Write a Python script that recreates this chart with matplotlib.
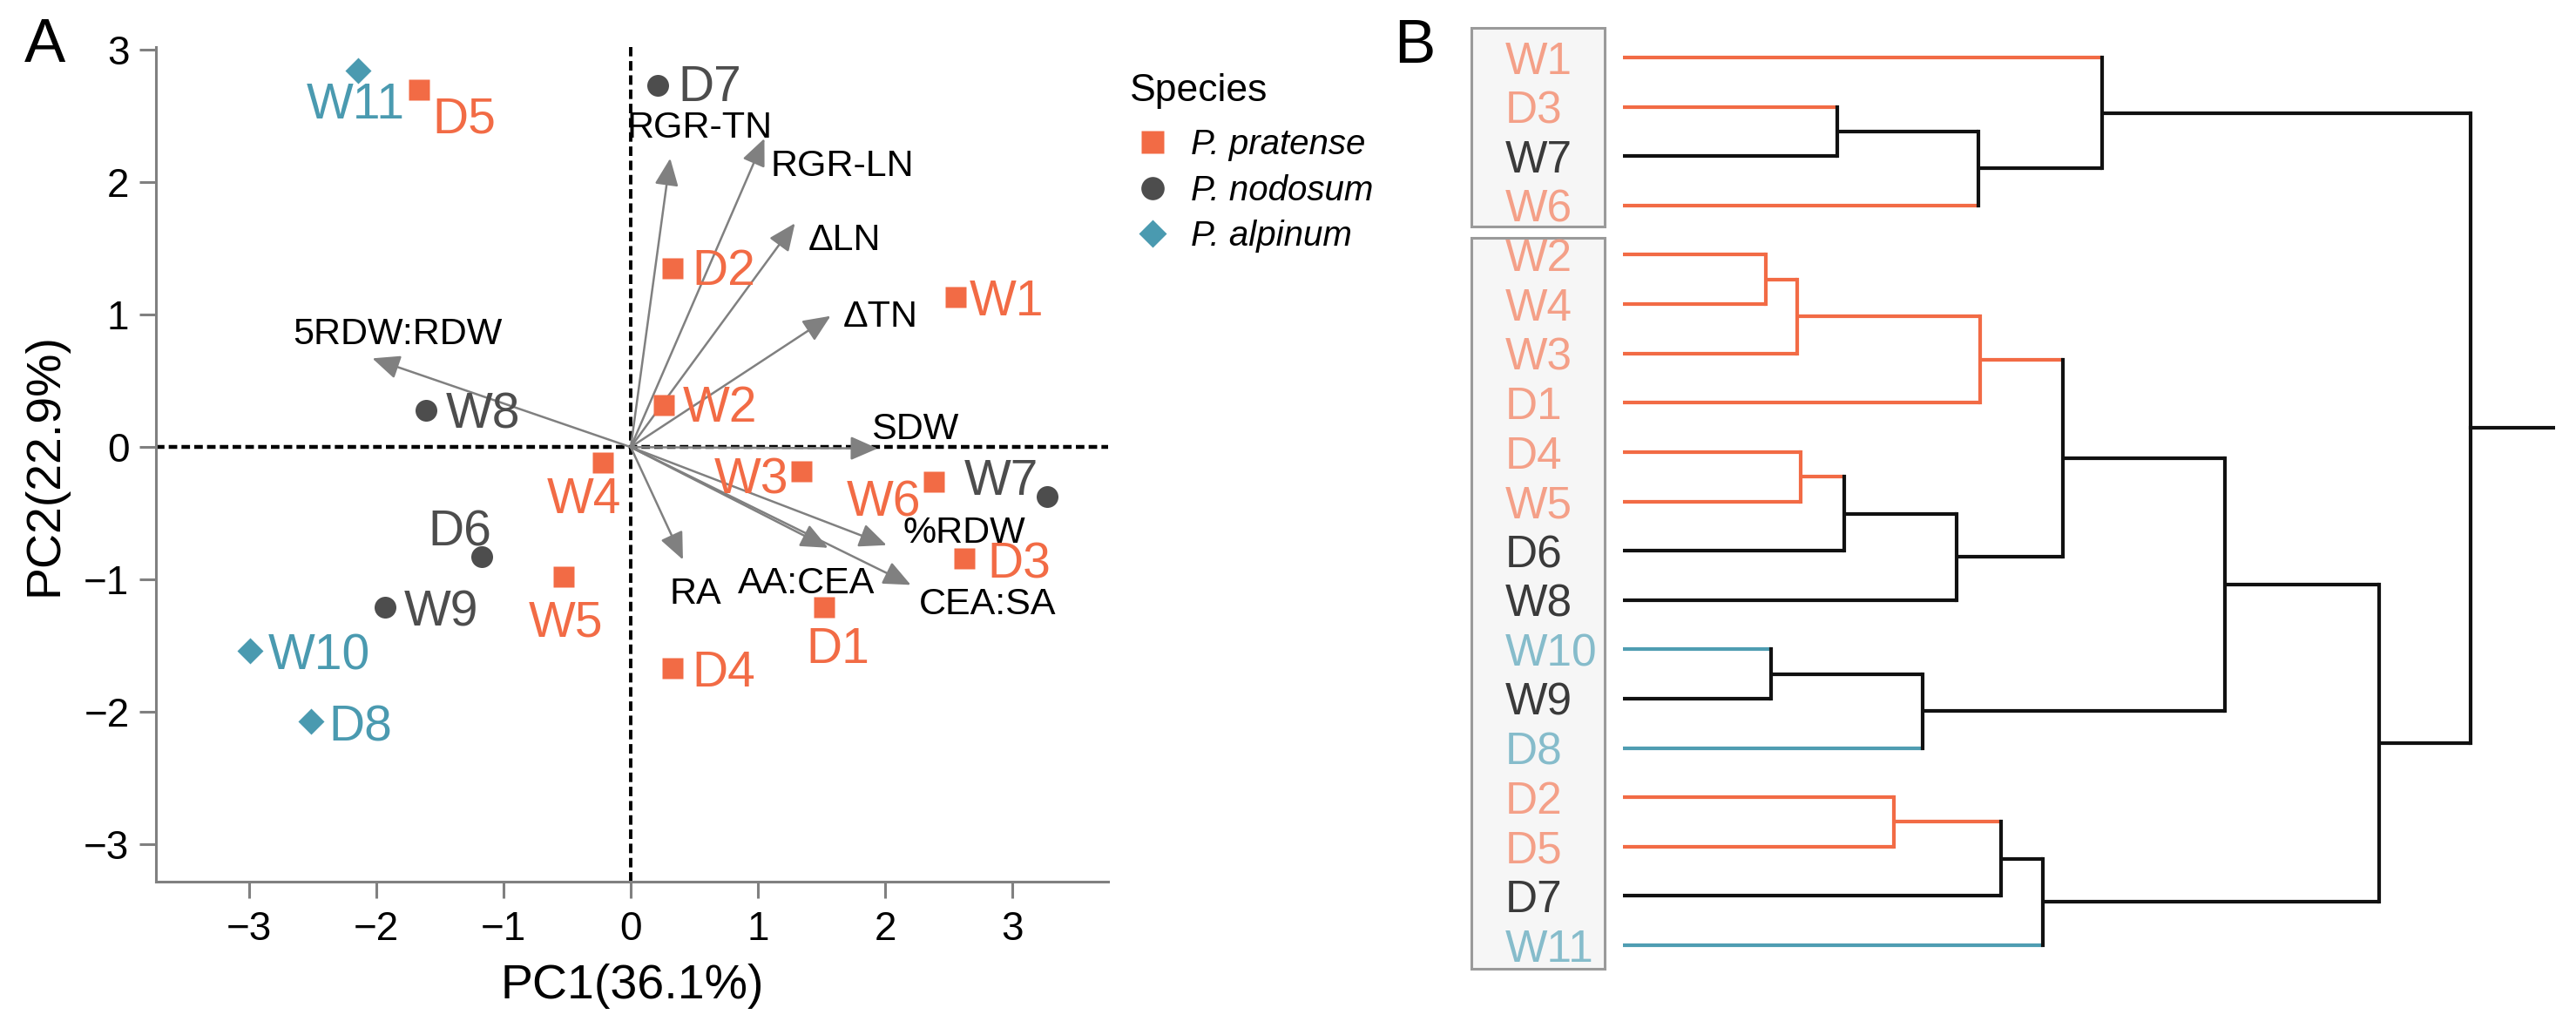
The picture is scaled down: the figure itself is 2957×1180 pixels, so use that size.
import numpy as np
import matplotlib
matplotlib.use("Agg")
import matplotlib.pyplot as plt
from matplotlib.patches import Rectangle
from matplotlib.lines import Line2D

plt.rcParams['font.family'] = ['Liberation Sans', 'DejaVu Sans']

# ---------------- data: PCA scores ----------------
sample_names = ["W11", "D5", "D7", "D2", "W1", "W2", "W8", "W4", "W3", "W6",
                "W7", "D6", "W5", "W9", "D3", "D1", "D4", "W10", "D8"]
pc1 = [-2.14, -1.66, 0.21, 0.33, 2.55, 0.26, -1.61, -0.22, 1.34, 2.38,
       3.27, -1.17, -0.53, -1.93, 2.62, 1.52, 0.33, -2.99, -2.51]
pc2 = [2.84, 2.70, 2.73, 1.35, 1.13, 0.32, 0.28, -0.12, -0.18, -0.26,
       -0.375, -0.83, -0.98, -1.21, -0.84, -1.21, -1.67, -1.54, -2.07]
# where each sample label sits
label_x = [-2.16, -1.31, 0.62, 0.73, 2.95, 0.70, -1.16, -0.37, 0.95, 1.99,
           2.91, -1.34, -0.51, -1.49, 3.05, 1.63, 0.73, -2.45, -2.12]
label_y = [2.62, 2.51, 2.75, 1.36, 1.13, 0.33, 0.28, -0.36, -0.21, -0.38,
           -0.22, -0.61, -1.29, -1.21, -0.85, -1.49, -1.67, -1.54, -2.08]

nodosum = ["W7", "W8", "W9", "D6", "D7"]
alpinum = ["W10", "W11", "D8"]
def species_of(name):
    if name in nodosum:
        return "nodosum"
    if name in alpinum:
        return "alpinum"
    return "pratense"

species_order = ["pratense", "nodosum", "alpinum"]
species_labels = ["P. pratense", "P. nodosum", "P. alpinum"]
species_marker = {"pratense": "s", "nodosum": "o", "alpinum": "D"}
species_msize = {"pratense": 8.6, "nodosum": 9.0, "alpinum": 7.6}
species_color = {"pratense": "#F26B45", "nodosum": "#4D4D4D", "alpinum": "#4A9AB0"}

# ---------------- data: loadings ----------------
var_names = ["RGR-TN", "RGR-LN", "\u0394LN", "\u0394TN", "5RDW:RDW", "SDW",
             "RA", "AA:CEA", "%RDW", "CEA:SA"]
load_x = [0.31, 1.05, 1.29, 1.57, -2.03, 1.94, 0.41, 1.55, 2.01, 2.20]
load_y = [2.18, 2.33, 1.69, 0.99, 0.67, -0.01, -0.85, -0.76, -0.74, -1.04]
var_lab_x = [0.54, 1.66, 1.68, 1.96, -1.83, 2.23, 0.51, 1.38, 2.62, 2.80]
var_lab_y = [2.44, 2.15, 1.59, 1.01, 0.88, 0.165, -1.08, -1.00, -0.62, -1.16]

# ---------------- data: clustering ----------------
leaf_order = ["W1", "D3", "W7", "W6", "W2", "W4", "W3", "D1", "D4", "W5",
              "D6", "W8", "W10", "W9", "D8", "D2", "D5", "D7", "W11"]
merges = [("D3", "W7", "c1", 2.46), ("c1", "W6", "c2", 4.08), ("W1", "c2", "c3", 5.50),
          ("W2", "W4", "c4", 1.64), ("c4", "W3", "c5", 2.00), ("c5", "D1", "c6", 4.10),
          ("D4", "W5", "c7", 2.04), ("c7", "D6", "c8", 2.54), ("c8", "W8", "c9", 3.83),
          ("c6", "c9", "c10", 5.05),
          ("W10", "W9", "c11", 1.70), ("c11", "D8", "c12", 3.44),
          ("c10", "c12", "c13", 6.91),
          ("D2", "D5", "c14", 3.11), ("c14", "D7", "c15", 4.34), ("c15", "W11", "c16", 4.82),
          ("c13", "c16", "c17", 8.68),
          ("c3", "c17", "root", 9.73)]
root_tail = 10.7
groups = [(0, 3), (4, 18)]

dend_line = {"pratense": "#F26B45", "nodosum": "#111111", "alpinum": "#4F9DB2"}
dend_text = {"pratense": "#F4A088", "nodosum": "#3A3A3A", "alpinum": "#86BCCB"}

W, H = 2957, 1180
fig = plt.figure(figsize=(W / 200, H / 200), dpi=200)

# ================= panel A =================
ax = fig.add_axes([179 / W, 1 - 1012 / H, (1272 - 179) / W, (1012 - 54) / H])
ax.set_xlim(-3.73, 3.75)
ax.set_ylim(-3.28, 3.02)
for s in ["top", "right"]:
    ax.spines[s].set_visible(False)
for s in ["left", "bottom"]:
    ax.spines[s].set_color("#808080")
    ax.spines[s].set_linewidth(1.1)
ax.set_xticks(range(-3, 4))
ax.set_yticks(range(-3, 4))
ax.tick_params(color="#808080", length=7, width=1.1, labelsize=16.5)
ax.tick_params(axis="x", pad=5)
ax.tick_params(axis="y", pad=4)

ax.axhline(0, color="black", lw=1.6, ls=(0, (2.2, 1.1)), zorder=1)
ax.axvline(0, color="black", lw=1.4, ls=(0, (2.8, 1.4)), zorder=1)

for i, v in enumerate(var_names):
    ax.annotate("", xy=(load_x[i], load_y[i]), xytext=(0, 0),
                arrowprops=dict(arrowstyle="-|>,head_length=0.48,head_width=0.21",
                                color="#808080", lw=0.9, shrinkA=0, shrinkB=0,
                                mutation_scale=20), zorder=2)
    ax.text(var_lab_x[i], var_lab_y[i], v, fontsize=15.5, ha="center",
            va="center_baseline", color="black", zorder=4)

for sp, lab in zip(species_order, species_labels):
    xs = [pc1[i] for i, n in enumerate(sample_names) if species_of(n) == sp]
    ys = [pc2[i] for i, n in enumerate(sample_names) if species_of(n) == sp]
    ax.plot(xs, ys, ls="none", marker=species_marker[sp], ms=species_msize[sp],
            color=species_color[sp], mec="none", zorder=3)

for i, n in enumerate(sample_names):
    ax.text(label_x[i], label_y[i], n, fontsize=20.5, ha="center", va="center_baseline",
            color=species_color[species_of(n)], zorder=4)

ax.set_xlabel("PC1(36.1%)", fontsize=20, va="center")
ax.xaxis.set_label_coords(0.5, (1012 - 1132) / (1012 - 54))
ax.set_ylabel("PC2(22.9%)", fontsize=20, va="center")
ax.yaxis.set_label_coords((52 - 179) / (1272 - 179), 0.5)

leg_handles = [Line2D([], [], ls="none", marker=species_marker[sp], ms=species_msize[sp] + 0.6,
                      color=species_color[sp], mec="none") for sp in species_order]
leg = ax.legend(leg_handles, species_labels, loc="upper left",
                bbox_to_anchor=(1297 / W, 1 - 84 / H), bbox_transform=fig.transFigure,
                frameon=False, borderpad=0, borderaxespad=0, title="Species",
                title_fontsize=16, prop={"style": "italic", "size": 14.5},
                handlelength=1.3, handletextpad=0.45, labelspacing=0.36, alignment="left")
leg._legend_box.sep = 8

fig.text(28 / W, 1 - 20 / H, "A", fontsize=25.5, ha="left", va="top")
fig.text(1600 / W, 1 - 21 / H, "B", fontsize=25.5, ha="left", va="top")

# ================= panel B =================
ax2 = fig.add_axes([1863 / W, 1 - 1113.3 / H, (2933 - 1863) / W, (1113.3 - 37.7) / H])
ax2.set_xlim(0, root_tail)
ax2.set_ylim(len(leaf_order) - 0.5, -0.5)
ax2.axis("off")

ypos = {n: i for i, n in enumerate(leaf_order)}
height = {n: 0.0 for n in leaf_order}
members = {n: [n] for n in leaf_order}

def node_color(node):
    sp = set(species_of(m) for m in members[node])
    if len(sp) == 1:
        return dend_line[sp.pop()]
    return "#111111"

for a, b, new, h in merges:
    ypos[new] = (ypos[a] + ypos[b]) / 2
    height[new] = h
    members[new] = members[a] + members[b]
    for child in (a, b):
        ax2.plot([height[child], h], [ypos[child], ypos[child]], color=node_color(child),
                 lw=1.5, solid_capstyle="butt")
    ax2.plot([h, h], [ypos[a], ypos[b]], color=node_color(new), lw=1.5,
             solid_capstyle="projecting")
ax2.plot([height["root"], root_tail], [ypos["root"]] * 2, color="#111111", lw=1.5)

box_pad = [(0.60, 0.43), (0.35, 0.48)]
for (lo, hi), (pt, pb) in zip(groups, box_pad):
    ax2.add_patch(Rectangle((-1.74, lo - pt), 1.53, (hi + pb) - (lo - pt),
                            facecolor="#F6F6F6", edgecolor="#9A9A9A", lw=1.1,
                            clip_on=False, zorder=0))

for i, n in enumerate(leaf_order):
    ax2.text(-1.355, i, n, fontsize=18.5, ha="left", va="center_baseline",
             color=dend_text[species_of(n)], clip_on=False, zorder=2)

fig.savefig("out.png", dpi=200)
